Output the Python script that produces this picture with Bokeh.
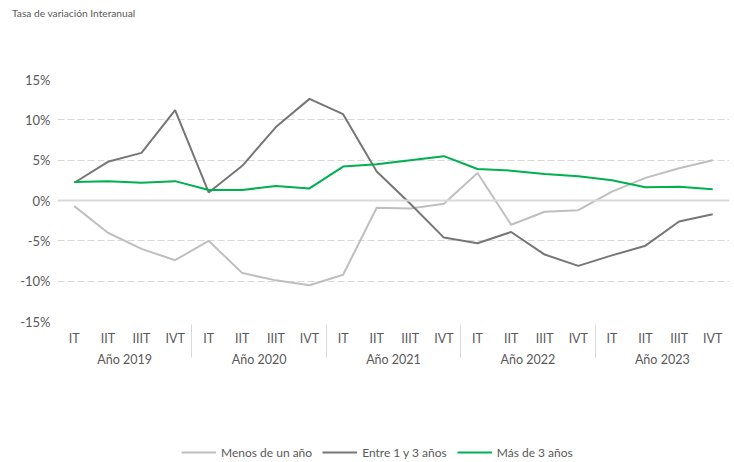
from bokeh.plotting import figure
from bokeh.layouts import column
from bokeh.models import (FactorRange, Range1d, FixedTicker, PrintfTickFormatter,
                          Span, Legend, LegendItem, ColumnDataSource, Div)
from bokeh.embed import file_html
from bokeh.resources import INLINE

years = ["Año 2019", "Año 2020", "Año 2021", "Año 2022", "Año 2023"]
quarters = ["IT", "IIT", "IIIT", "IVT"]

menos_un_ano = [-0.7, -4.0, -6.0, -7.4,
                -5.0, -9.0, -9.9, -10.5,
                -9.2, -0.9, -1.0, -0.4,
                3.4, -3.0, -1.4, -1.2,
                1.1, 2.8, 4.0, 5.0]
entre_1_3 = [2.2, 4.8, 5.9, 11.2,
             1.0, 4.3, 9.1, 12.6,
             10.7, 3.6, -0.4, -4.6,
             -5.3, -3.9, -6.7, -8.1,
             -6.8, -5.6, -2.6, -1.7]
mas_3 = [2.3, 2.4, 2.2, 2.4,
         1.3, 1.3, 1.8, 1.5,
         4.2, 4.5, 5.0, 5.5,
         3.9, 3.7, 3.3, 3.0,
         2.5, 1.65, 1.7, 1.4]
y_ticks = [-15, -10, -5, 0, 5, 10, 15]

series_names = ["Menos de un año", "Entre 1 y 3 años", "Más de 3 años"]
colors = ["#BFBFBF", "#767676", "#00B050"]
title_text = "Tasa de variación Interanual"

factors = [(y, q) for y in years for q in quarters]
FONT = "Lato"
TXT = "#595959"

title_div = Div(text=title_text, width=734, height=22, margin=(0, 0, 0, 0),
                styles={"font-family": FONT, "font-size": "10.2px", "color": TXT,
                        "padding-left": "12px", "padding-top": "7px",
                        "line-height": "13px"})

p = figure(width=734, height=408, output_backend="svg", toolbar_location=None,
           x_range=FactorRange(*factors, group_padding=0, range_padding=0),
           y_range=Range1d(-15, 15),
           min_border_left=57, min_border_right=5, min_border_top=57,
           min_border_bottom=109)
p.outline_line_color = None
p.background_fill_color = "white"
p.border_fill_color = "white"

src = ColumnDataSource(dict(x=factors, a=menos_un_ano, b=entre_1_3, c=mas_3))
for col, c in zip(["a", "b", "c"], colors):
    p.line(x="x", y=col, source=src, line_color=c, line_width=2)

p.xgrid.grid_line_color = None
p.ygrid.grid_line_color = "#D9D9D9"
p.ygrid.grid_line_dash = "7 3"
p.ygrid.grid_line_width = 1
p.yaxis.ticker = FixedTicker(ticks=y_ticks)
p.yaxis.formatter = PrintfTickFormatter(format="%d%%")
p.yaxis.axis_line_color = None
p.yaxis.major_tick_line_color = None
p.yaxis.minor_tick_line_color = None
p.yaxis.major_label_text_font = FONT
p.yaxis.major_label_text_font_size = "13px"
p.yaxis.major_label_text_color = TXT
p.yaxis.major_label_standoff = 1

zero = Span(location=0, dimension="width", line_color="#D9D9D9", line_width=2)
p.add_layout(zero)

xa = p.xaxis[0]
xa.axis_line_color = None
xa.major_tick_line_color = None
xa.minor_tick_line_color = None
xa.major_label_standoff = 3
xa.major_label_text_font = FONT
xa.major_label_text_font_size = "12.5px"
xa.major_label_text_color = TXT
xa.group_text_font = FONT
xa.group_text_font_size = "12.5px"
xa.group_text_color = TXT
xa.group_text_font_style = "normal"
xa.separator_line_color = "#D9D9D9"
xa.separator_line_width = 1

# legend strip: same series, drawn outside its visible y-range so only the legend shows
lg = figure(width=734, height=32, output_backend="svg", toolbar_location=None,
            x_range=FactorRange(*factors, group_padding=0, range_padding=0),
            y_range=Range1d(100, 101),
            min_border_left=0, min_border_right=0, min_border_top=0, min_border_bottom=0)
lg.outline_line_color = None
lg.axis.visible = False
lg.grid.grid_line_color = None
items = []
for n, col, c in zip(series_names, ["a", "b", "c"], colors):
    r = lg.line(x="x", y=col, source=src, line_color=c, line_width=2)
    items.append(LegendItem(label=n, renderers=[r]))
legend = Legend(items=items, orientation="horizontal", location=(124, 0),
                label_text_font=FONT, label_text_font_size="12px", label_text_color=TXT,
                glyph_width=35, label_standoff=5, spacing=10, border_line_color=None,
                background_fill_alpha=0, padding=0, margin=0)
lg.add_layout(legend)

layout = column(title_div, p, lg, spacing=0)
open("out.html", "w").write(file_html(layout, INLINE))
